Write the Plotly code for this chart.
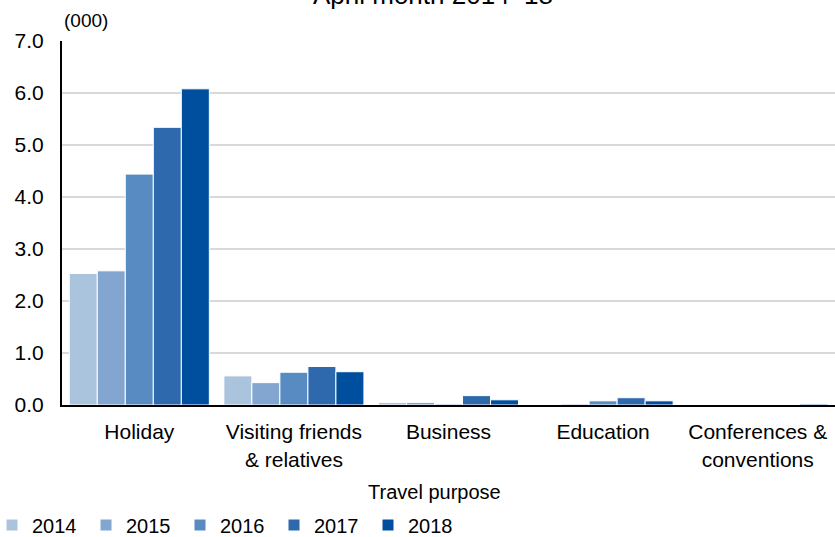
import plotly.graph_objects as go

categories = ["Holiday", "Visiting friends<br>& relatives", "Business", "Education", "Conferences &<br>conventions"]
years = ["2014", "2015", "2016", "2017", "2018"]
v2014 = [2.53, 0.56, 0.05, 0.00, 0.00]
v2015 = [2.58, 0.43, 0.05, 0.02, 0.00]
v2016 = [4.44, 0.63, 0.02, 0.08, 0.00]
v2017 = [5.34, 0.74, 0.18, 0.14, 0.00]
v2018 = [6.08, 0.64, 0.10, 0.08, 0.02]
series = [v2014, v2015, v2016, v2017, v2018]
colors = ["#ABC4DE", "#82A6CF", "#578BC1", "#2D69AC", "#004F9E"]
y_ticks = [0, 1, 2, 3, 4, 5, 6, 7]

FONT = "Liberation Sans, Arial, sans-serif"
W, H = 835, 537
L, T, PW, PH = 62, 41, 773, 364

fig = go.Figure()
for name, vals, col in zip(years, series, colors):
    fig.add_trace(go.Bar(
        name=name, x=categories, y=vals,
        marker=dict(color=col, line=dict(color="white", width=1)),
    ))

fig.update_layout(
    width=W, height=H,
    margin=dict(l=L, r=W - L - PW, t=T, b=H - T - PH, autoexpand=False),
    paper_bgcolor="white", plot_bgcolor="white",
    barmode="group", bargap=0.094, bargroupgap=0,
    font=dict(family=FONT, size=20, color="#000000"),
    showlegend=True,
    legend=dict(
        orientation="h", xref="paper", yref="paper",
        x=(-8 - L) / PW, xanchor="left", y=-(525 - T - PH) / PH, yanchor="middle",
        font=dict(size=20, family=FONT),
        entrywidth=49, entrywidthmode="pixels",
        traceorder="normal", itemwidth=30,
        bgcolor="rgba(0,0,0,0)",
    ),
    xaxis=dict(
        showline=True, linecolor="#000000", linewidth=2,
        showgrid=False, ticks="", tickfont=dict(size=21),
        ticklabelstandoff=7, automargin=False,
    ),
    yaxis=dict(
        range=[0, 7], tickvals=y_ticks, tickformat=".1f",
        showline=True, linecolor="#000000", linewidth=2,
        showgrid=True, gridcolor="#D9D9D9", gridwidth=1.5,
        zeroline=False, ticks="", tickfont=dict(size=21),
        ticklabelstandoff=12, automargin=False,
    ),
    annotations=[
        dict(text="April month 2014–18", xref="paper", yref="paper",
             x=(433 - L) / PW, y=1 + (T - 6) / PH, xanchor="center", yanchor="bottom",
             yshift=-6, showarrow=False, font=dict(size=26, family=FONT)),
        dict(text="(000)", xref="paper", yref="paper",
             x=(86 - L) / PW, y=1 + (T - 21) / PH, xanchor="center", yanchor="middle",
             showarrow=False, font=dict(size=19, family=FONT)),
        dict(text="Travel purpose", xref="paper", yref="paper",
             x=(434 - L) / PW, y=-(492 - T - PH) / PH, xanchor="center", yanchor="middle",
             showarrow=False, font=dict(size=20, family=FONT)),
    ],
)

fig.write_html("out.html", config={"displayModeBar": False},
               post_script="document.body.style.margin='0';")
